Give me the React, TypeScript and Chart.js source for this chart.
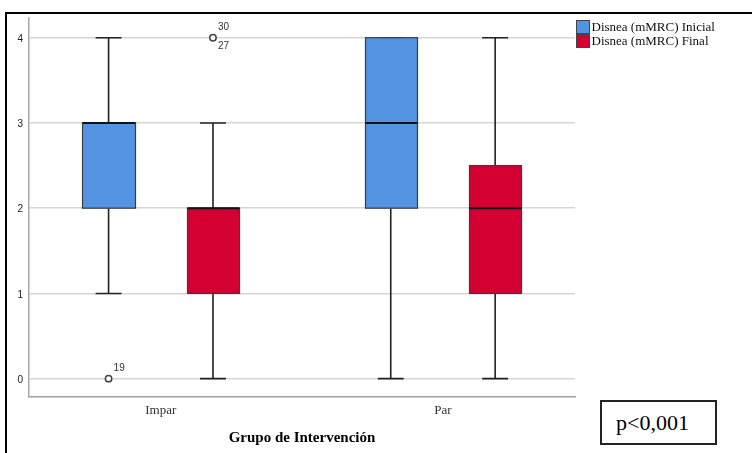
import { useEffect, useRef } from "react";
import { Chart, registerables } from "chart.js";

Chart.register(...registerables);

// ---- data ----
const categories = ["Impar", "Par"];
const seriesNames = ["Disnea (mMRC) Inicial", "Disnea (mMRC) Final"];
const seriesColors = ["#5294e2", "#d50032"];

const inicialMin = [1, 0];
const inicialQ1 = [2, 2];
const inicialMedian = [3, 3];
const inicialQ3 = [3, 4];
const inicialMax = [4, 4];

const finalMin = [0, 0];
const finalQ1 = [1, 1];
const finalMedian = [2, 2];
const finalQ3 = [2, 2.5];
const finalMax = [3, 4];

const inicialOutliers = [{ cat: 0, value: 0, labels: ["19"] }];
const finalOutliers = [{ cat: 0, value: 4, labels: ["30", "27"] }];

const yTickValues = [0, 1, 2, 3, 4];
const xTitle = "Grupo de Intervención";
const pValueText = "p<0,001";

// ---- layout constants (in category units) ----
const SERIES_OFFSET = 0.185;
const BOX_HALF = 0.093;
const CAP_HALF = 0.046;

const series = [
  { name: seriesNames[0], color: seriesColors[0], min: inicialMin, q1: inicialQ1, med: inicialMedian, q3: inicialQ3, max: inicialMax, out: inicialOutliers, off: -SERIES_OFFSET },
  { name: seriesNames[1], color: seriesColors[1], min: finalMin, q1: finalQ1, med: finalMedian, q3: finalQ3, max: finalMax, out: finalOutliers, off: SERIES_OFFSET },
];

const boxPlugin = {
  id: "boxes",
  beforeDatasetsDraw(chart: any) {
    const { ctx, scales } = chart;
    const xs = scales.x;
    const ys = scales.y;
    ctx.save();
    series.forEach((s) => {
      categories.forEach((_, i) => {
        const cx = xs.getPixelForValue(i + s.off);
        const left = Math.round(xs.getPixelForValue(i + s.off - BOX_HALF)) + 0.5;
        const right = Math.round(xs.getPixelForValue(i + s.off + BOX_HALF)) + 0.5;
        const capL = xs.getPixelForValue(i + s.off - CAP_HALF);
        const capR = xs.getPixelForValue(i + s.off + CAP_HALF);
        const yMin = ys.getPixelForValue(s.min[i]);
        const yQ1 = ys.getPixelForValue(s.q1[i]);
        const yMed = ys.getPixelForValue(s.med[i]);
        const yQ3 = ys.getPixelForValue(s.q3[i]);
        const yMax = ys.getPixelForValue(s.max[i]);
        // whiskers
        ctx.strokeStyle = "#222";
        ctx.lineWidth = 1.6;
        ctx.beginPath();
        ctx.moveTo(cx, yQ1);
        ctx.lineTo(cx, yMin);
        ctx.moveTo(cx, yQ3);
        ctx.lineTo(cx, yMax);
        ctx.moveTo(capL, yMin);
        ctx.lineTo(capR, yMin);
        ctx.moveTo(capL, yMax);
        ctx.lineTo(capR, yMax);
        ctx.stroke();
        // box
        ctx.fillStyle = s.color;
        ctx.fillRect(left, yQ3, right - left, yQ1 - yQ3);
        ctx.strokeStyle = "#3c3c3c";
        ctx.lineWidth = 1.2;
        ctx.strokeRect(left, yQ3, right - left, yQ1 - yQ3);
        // median
        ctx.strokeStyle = "#111";
        ctx.lineWidth = 2;
        ctx.beginPath();
        ctx.moveTo(left, yMed);
        ctx.lineTo(right, yMed);
        ctx.stroke();
      });
    });
    ctx.restore();
  },
  afterDraw(chart: any) {
    const { ctx, scales, chartArea } = chart;
    const xs = scales.x;
    const ys = scales.y;
    ctx.save();
    // outlier labels
    ctx.fillStyle = "#333";
    ctx.font = "10px 'Liberation Sans', Arial, sans-serif";
    ctx.textAlign = "left";
    ctx.textBaseline = "middle";
    series.forEach((s) => {
      s.out.forEach((o) => {
        const px = xs.getPixelForValue(o.cat + s.off);
        const py = ys.getPixelForValue(o.value);
        o.labels.forEach((lab, k) => {
          ctx.fillText(lab, px + 5, k === 0 ? py - 10 : py + 9);
        });
      });
    });
    // legend
    const lx = chartArea.right + 1.5;
    let ly = chartArea.top + 2.5;
    ctx.font = "13px 'Liberation Serif', 'Times New Roman', serif";
    series.forEach((s) => {
      ctx.fillStyle = s.color;
      ctx.fillRect(lx, ly, 13, 13);
      ctx.strokeStyle = "#444";
      ctx.lineWidth = 1;
      ctx.strokeRect(lx, ly, 13, 13);
      ctx.fillStyle = "#111";
      ctx.fillText(s.name, lx + 15, ly + 7);
      ly += 14;
    });
    ctx.restore();
  },
};

export default function App() {
  const canvasRef = useRef<HTMLCanvasElement | null>(null);

  useEffect(() => {
    if (!canvasRef.current) return;
    const outlierPoints: { x: number; y: number }[] = [];
    series.forEach((s) => s.out.forEach((o) => outlierPoints.push({ x: o.cat + s.off, y: o.value })));

    const chart = new Chart(canvasRef.current, {
      type: "scatter",
      data: {
        datasets: [
          {
            label: "outliers",
            data: outlierPoints,
            pointRadius: 3.2,
            pointBorderWidth: 1.5,
            pointBorderColor: "#444",
            pointBackgroundColor: "#fff",
          },
        ],
      },
      options: {
        animation: false,
        responsive: false,
        devicePixelRatio: 1,
        layout: { padding: { left: 0, right: 177, top: 18, bottom: 0 } },
        plugins: { legend: { display: false }, tooltip: { enabled: false } },
        scales: {
          x: {
            type: "linear",
            min: -0.467,
            max: 1.468,
            afterFit: (s: any) => {
              s.height = 56;
            },
            afterBuildTicks: (s: any) => {
              s.ticks = categories.map((_, i) => ({ value: i }));
            },
            ticks: {
              autoSkip: false,
              maxRotation: 0,
              includeBounds: false,
              padding: 6,
              color: "#333",
              font: { family: "'Liberation Serif', 'Times New Roman', serif", size: 13 },
              callback: (v: any) => categories[Math.round(Number(v))] ?? "",
            },
            grid: { display: false, drawTicks: false },
            border: { display: true, color: "#a0a0a0", width: 1.5 },
            title: {
              display: true,
              text: xTitle,
              color: "#000",
              font: { family: "'Liberation Serif', 'Times New Roman', serif", size: 15, weight: "bold" },
              padding: { top: 4, bottom: 6 },
            },
          },
          y: {
            type: "linear",
            min: -0.215,
            max: 4.231,
            afterFit: (s: any) => {
              s.width = 29;
            },
            afterBuildTicks: (s: any) => {
              s.ticks = yTickValues.map((v) => ({ value: v }));
            },
            ticks: {
              includeBounds: false,
              padding: 6,
              labelOffset: 1.5,
              color: "#222",
              font: { family: "'Liberation Sans', Arial, sans-serif", size: 10 },
            },
            grid: { color: "#d6d6d6", lineWidth: 1.6, drawTicks: false },
            border: { display: true, color: "#a8a8a8", width: 1.5 },
          },
        },
      },
      plugins: [boxPlugin],
    } as any);
    return () => chart.destroy();
  }, []);

  return (
    <div style={{ position: "absolute", left: 0, top: 0, width: 752, height: 453, background: "#fff", overflow: "hidden" }}>
      <canvas ref={canvasRef} width={752} height={453} style={{ position: "absolute", left: 0, top: 0, width: 752, height: 453 }} />
      <div
        style={{
          position: "absolute",
          left: 5,
          top: 12,
          width: 747,
          height: 441,
          boxSizing: "border-box",
          borderTop: "2px solid #000",
          borderLeft: "2px solid #000",
          pointerEvents: "none",
        }}
      />
      <div
        style={{
          position: "absolute",
          left: 600,
          top: 400,
          width: 117,
          height: 45,
          boxSizing: "border-box",
          border: "2px solid #222",
          background: "#fff",
          display: "flex",
          alignItems: "center",
          paddingLeft: 14,
          fontFamily: "'Liberation Serif', 'Times New Roman', serif",
          fontSize: 22,
          color: "#000",
        }}
      >
        {pValueText}
      </div>
    </div>
  );
}
